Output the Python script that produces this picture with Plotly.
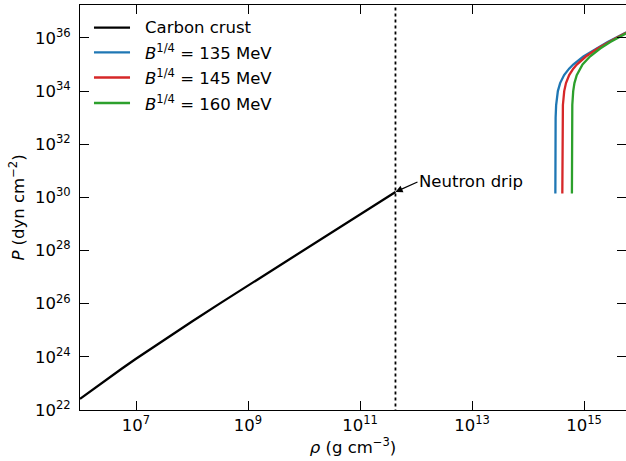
import math
import plotly.graph_objects as go

# ---- data ----
crust_rho = [1.0e6, 1.778e6, 3.162e6, 5.623e6, 1.0e7, 3.162e7, 1.0e8, 3.162e8,
             1.0e9, 1.0e10, 1.0e11, 4.3e11]
crust_P = [2.62e22, 6.42e22, 1.54e23, 3.65e23, 8.46e23, 4.36e24, 2.15e25, 1.03e26,
           4.86e26, 1.06e28, 2.29e29, 1.60e30]

quark_P = [1.4e30, 1e31, 1e32, 1e33, 3e33, 1e34, 2e34, 4e34, 7e34, 1e35,
           2e35, 4e35, 7e35, 1e36, 2e36]
rho_135 = [3.080e14, 3.080e14, 3.083e14, 3.113e14, 3.180e14, 3.414e14, 3.748e14,
           4.415e14, 5.416e14, 6.418e14, 9.756e14, 1.643e15, 2.644e15, 3.646e15, 6.984e15]
rho_145 = [4.100e14, 4.100e14, 4.103e14, 4.133e14, 4.200e14, 4.434e14, 4.768e14,
           5.435e14, 6.436e14, 7.438e14, 1.078e15, 1.745e15, 2.746e15, 3.748e15, 7.086e15]
rho_160 = [6.082e14, 6.082e14, 6.085e14, 6.115e14, 6.182e14, 6.416e14, 6.750e14,
           7.417e14, 8.418e14, 9.420e14, 1.276e15, 1.943e15, 2.944e15, 3.946e15, 7.284e15]

neutron_drip_rho = 4.3e11
neutron_drip_P = 1.60e30

x_tick_exps = [7, 9, 11, 13, 15]
y_tick_exps = [22, 24, 26, 28, 30, 32, 34, 36]

series_names = ["Carbon crust", "<i>B</i><sup>1/4</sup> = 135 MeV",
                "<i>B</i><sup>1/4</sup> = 145 MeV", "<i>B</i><sup>1/4</sup> = 160 MeV"]
series_colors = ["black", "#1f77b4", "#d62728", "#2ca02c"]

FONT = "DejaVu Sans"
FS = 16.5
LW = 2.3

fig = go.Figure()
fig.add_trace(go.Scatter(x=crust_rho, y=crust_P, mode="lines", name=series_names[0],
                         line=dict(color=series_colors[0], width=LW)))
for rho, name, col in zip([rho_135, rho_145, rho_160], series_names[1:], series_colors[1:]):
    fig.add_trace(go.Scatter(x=rho, y=quark_P, mode="lines", name=name,
                             line=dict(color=col, width=LW)))

# neutron drip dotted line
fig.add_trace(go.Scatter(x=[neutron_drip_rho, neutron_drip_rho], y=[1e21, 1e38],
                         mode="lines", showlegend=False, hoverinfo="skip",
                         line=dict(color="black", width=1.8, dash="dot")))

fig.add_annotation(x=math.log10(neutron_drip_rho), y=math.log10(neutron_drip_P),
                   xref="x", yref="y", text="Neutron drip",
                   showarrow=True, arrowhead=2, arrowsize=1.1, arrowwidth=1.3,
                   arrowcolor="black", ax=22, ay=-10, xanchor="left", yanchor="middle",
                   font=dict(family=FONT, size=FS, color="black"))

# manual legend (paper coordinates)
leg_rows_y = [0.944, 0.883, 0.821, 0.758]
for yy, name, col in zip(leg_rows_y, series_names, series_colors):
    fig.add_shape(type="line", xref="paper", yref="paper", x0=0.0256, x1=0.0916,
                  y0=yy, y1=yy, line=dict(color=col, width=LW))
    fig.add_annotation(xref="paper", yref="paper", x=0.1154, y=yy, text=name,
                       showarrow=False, xanchor="left", yanchor="middle",
                       font=dict(family=FONT, size=FS, color="black"))

fig.update_xaxes(type="log", range=[6, 15.75],
                 tickvals=[10.0**e for e in x_tick_exps],
                 ticktext=[f"10<sup>{e}</sup>" for e in x_tick_exps],
                 ticks="inside", ticklen=9, tickwidth=1.2, tickcolor="black",
                 showline=True, linecolor="black", linewidth=1.2, mirror="ticks",
                 showgrid=False, zeroline=False,
                 title=dict(text="<i>ρ</i> (g cm<sup>−3</sup>)", standoff=6,
                            font=dict(family=FONT, size=FS, color="black")),
                 tickfont=dict(family=FONT, size=FS, color="black"))
fig.update_yaxes(type="log", range=[22, 37.24],
                 tickvals=[10.0**e for e in y_tick_exps],
                 ticktext=[f"10<sup>{e}</sup>" for e in y_tick_exps],
                 ticks="inside", ticklen=9, tickwidth=1.2, tickcolor="black",
                 showline=True, linecolor="black", linewidth=1.2, mirror="ticks",
                 showgrid=False, zeroline=False, ticklabelstandoff=5,
                 title=dict(text="<i>P</i> (dyn cm<sup>−2</sup>)", standoff=6,
                            font=dict(family=FONT, size=FS, color="black")),
                 tickfont=dict(family=FONT, size=FS, color="black"))

fig.update_layout(width=626, height=461,
                  margin=dict(l=80, r=0, t=5, b=51, autoexpand=False),
                  plot_bgcolor="white", paper_bgcolor="white",
                  font=dict(family=FONT, size=FS, color="black"),
                  showlegend=False)

fig.write_html("out.html", config={"displayModeBar": False},
               post_script="document.body.style.margin='0';")
